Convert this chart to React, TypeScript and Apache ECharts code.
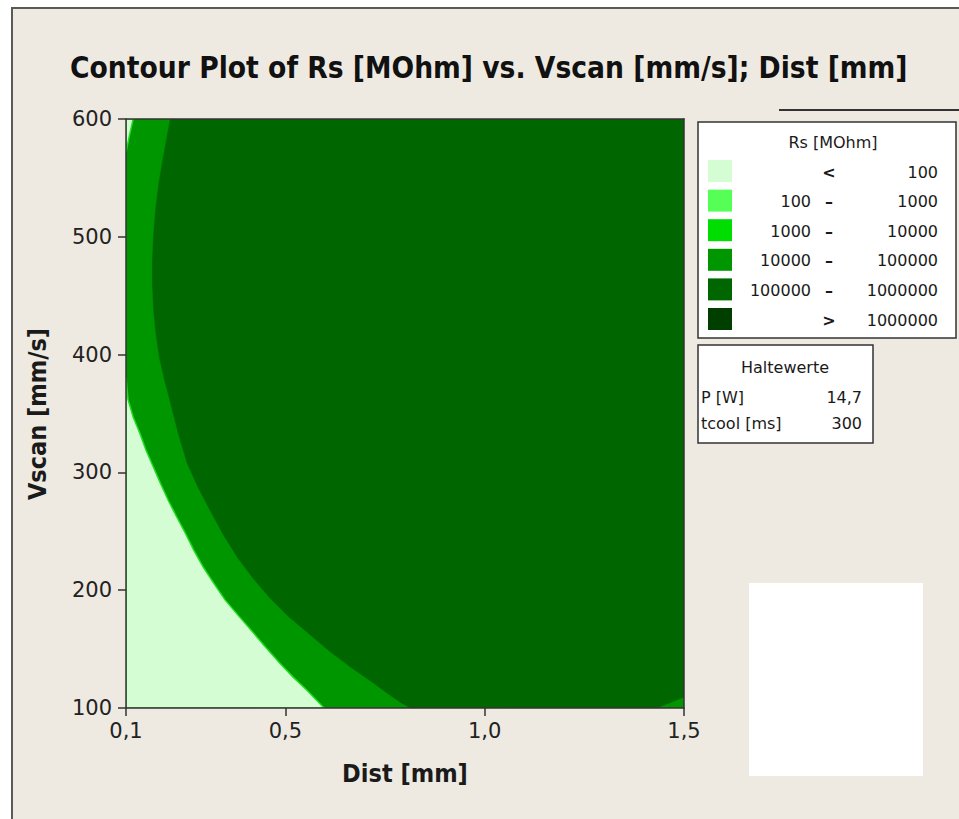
import React, { useEffect, useRef } from "react";
import * as echarts from "echarts";

// ---- Data ----
const xTicks = [0.1, 0.5, 1.0, 1.5];
const yMin = 100;
const yMax = 600;
const xMin = 0.1;
const xMax = 1.5;

// full plot region (100000 - 1000000)
const darkRegion: number[][] = [
  [0.1, 100], [1.5, 100], [1.5, 600], [0.1, 600],
];
// boundary between 10000-100000 and 100000-1000000 (top -> bottom)
const mediumDarkBoundary: number[][] = [
  [0.21, 600], [0.2, 582], [0.191, 565], [0.181, 545], [0.173, 523],
  [0.168, 502], [0.165, 480], [0.165, 460], [0.168, 438], [0.174, 417],
  [0.183, 397], [0.195, 379], [0.209, 361], [0.23, 333], [0.252, 308],
  [0.28, 287], [0.311, 267], [0.343, 247], [0.378, 228], [0.418, 210],
  [0.461, 193], [0.505, 178], [0.554, 164], [0.61, 148], [0.669, 133],
  [0.72, 121], [0.76, 111], [0.79, 104], [0.812, 100],
];
// boundary of the < 100 region (left edge -> bottom)
const lightBoundary: number[][] = [
  [0.1, 380], [0.105, 362], [0.118, 347], [0.135, 333], [0.15, 319],
  [0.168, 305], [0.186, 291], [0.205, 277], [0.226, 263], [0.248, 249],
  [0.27, 234], [0.293, 220], [0.32, 206], [0.348, 192], [0.383, 178],
  [0.419, 164], [0.452, 151], [0.486, 138], [0.52, 126], [0.554, 115],
  [0.577, 107], [0.597, 100],
];
// small < 100 sliver at the top-left corner
const topLeftSliver: number[][] = [[0.1, 600], [0.118, 600], [0.108, 585], [0.1, 572]];
// small 10000-100000 corner at the bottom-right
const bottomRightCorner: number[][] = [[1.435, 100], [1.5, 109], [1.5, 100]];

const legendColors = ["#D4FDD4", "#55FF55", "#00DD00", "#009600", "#006600", "#003F00"];
const legendLow = ["", "100", "1000", "10000", "100000", ""];
const legendSym = ["<", "\u2013", "\u2013", "\u2013", "\u2013", ">"];
const legendHigh = ["100", "1000", "10000", "100000", "1000000", "1000000"];

const holdNames = ["P [W]", "tcool [ms]"];
const holdValues = ["14,7", "300"];

const TITLE = "Contour Plot of Rs [MOhm] vs. Vscan [mm/s]; Dist [mm]";
const FONT = '"DejaVu Sans Condensed", "DejaVu Sans", sans-serif';
const FONT_W = '"DejaVu Sans", sans-serif';
const BG = "#EEEAE1";

const polygons = [
  { pts: darkRegion, fill: legendColors[4], stroke: null as string | null },
  {
    pts: [[0.1, 600], ...mediumDarkBoundary, [0.1, 100]],
    fill: legendColors[3],
    stroke: null,
  },
  { pts: bottomRightCorner, fill: legendColors[3], stroke: null },
  { pts: [...lightBoundary, [0.1, 100]], fill: legendColors[0], stroke: "#22DD22" },
  { pts: topLeftSliver, fill: legendColors[0], stroke: "#22DD22" },
];

function pickTitleFont(): string {
  const c = document.createElement("canvas").getContext("2d");
  if (c) {
    c.font = `bold 100px ${FONT}`;
    const w = c.measureText(TITLE).width;
    const size = Math.min(38, Math.max(24, (838 / w) * 100));
    return `bold ${size.toFixed(1)}px ${FONT}`;
  }
  return `bold 30px ${FONT}`;
}

export default function App() {
  const ref = useRef<HTMLDivElement>(null);
  useEffect(() => {
    if (!ref.current) return;
    const chart = echarts.init(ref.current, null, { renderer: "svg" });
    const LF = `16px ${FONT_W}`;
    const TC = "#1a1a1a";

    const legendGraphics: any[] = [
      { type: "rect", shape: { x: 698, y: 122, width: 258, height: 216 }, style: { fill: "#fff", stroke: "#333", lineWidth: 1.5 } },
      { type: "text", x: 833, y: 142, style: { text: "Rs [MOhm]", font: LF, fill: TC, align: "center", verticalAlign: "middle" } },
    ];
    legendColors.forEach((c, i) => {
      const y = 160 + i * 29.6;
      legendGraphics.push({ type: "rect", shape: { x: 708, y, width: 24, height: 22 }, style: { fill: c } });
      const cy = y + 12;
      if (legendLow[i]) legendGraphics.push({ type: "text", x: 811, y: cy, style: { text: legendLow[i], font: LF, fill: TC, align: "right", verticalAlign: "middle" } });
      legendGraphics.push({ type: "text", x: 829, y: cy, style: { text: legendSym[i], font: `bold 16px ${FONT_W}`, fill: TC, align: "center", verticalAlign: "middle" } });
      legendGraphics.push({ type: "text", x: 938, y: cy, style: { text: legendHigh[i], font: LF, fill: TC, align: "right", verticalAlign: "middle" } });
    });
    legendGraphics.push(
      { type: "rect", shape: { x: 698, y: 345, width: 175, height: 98 }, style: { fill: "#fff", stroke: "#333", lineWidth: 1.5 } },
      { type: "text", x: 785, y: 367, style: { text: "Haltewerte", font: LF, fill: TC, align: "center", verticalAlign: "middle" } }
    );
    holdNames.forEach((n, i) => {
      const y = 397 + i * 26;
      legendGraphics.push({ type: "text", x: 701, y, style: { text: n, font: LF, fill: TC, align: "left", verticalAlign: "middle" } });
      legendGraphics.push({ type: "text", x: 862, y, style: { text: holdValues[i], font: LF, fill: TC, align: "right", verticalAlign: "middle" } });
    });

    const fmt = (v: number) => v.toFixed(1).replace(".", ",");

    chart.setOption({
      animation: false,
      backgroundColor: "#ffffff",
      grid: { left: 126, top: 119, width: 558, height: 589, show: false },
      xAxis: [
        {
          type: "value", min: xMin, max: xMax, position: "bottom", z: 10,
          axisLine: { show: true, onZero: false, lineStyle: { color: "#333", width: 1.5 } },
          axisTick: { show: true, customValues: xTicks, length: 8, lineStyle: { color: "#333", width: 1.5 } },
          axisLabel: { customValues: xTicks, formatter: fmt, fontSize: 21, color: "#222", margin: 12, fontFamily: FONT_W },
          splitLine: { show: false },
        },
        {
          type: "value", min: xMin, max: xMax, position: "top", z: 10,
          axisLine: { show: true, onZero: false, lineStyle: { color: "#333", width: 1.5 } },
          axisTick: { show: false }, axisLabel: { show: false }, splitLine: { show: false },
        },
      ],
      yAxis: [
        {
          type: "value", min: yMin, max: yMax, interval: 100, position: "left", z: 10,
          axisLine: { show: true, onZero: false, lineStyle: { color: "#333", width: 1.5 } },
          axisTick: { show: true, length: 8, lineStyle: { color: "#333", width: 1.5 } },
          axisLabel: { fontSize: 21, color: "#222", margin: 14, fontFamily: FONT_W },
          splitLine: { show: false },
        },
        {
          type: "value", min: yMin, max: yMax, position: "right", z: 10,
          axisLine: { show: true, onZero: false, lineStyle: { color: "#333", width: 1.5 } },
          axisTick: { show: false }, axisLabel: { show: false }, splitLine: { show: false },
        },
      ],
      series: [
        {
          type: "custom",
          xAxisIndex: 0,
          yAxisIndex: 0,
          z: 2,
          clip: true,
          data: polygons.map((p) => p.pts[0]),
          renderItem: (params: any, api: any) => {
            const poly = polygons[params.dataIndex];
            const points = poly.pts.map((pt) => api.coord(pt));
            return {
              type: "polygon",
              shape: { points },
              style: poly.stroke
                ? { fill: poly.fill, stroke: poly.stroke, lineWidth: 1.5 }
                : { fill: poly.fill, stroke: poly.fill, lineWidth: 0.5 },
            };
          },
        },
      ],
      graphic: [
        { type: "rect", z: -10, shape: { x: 12, y: 8, width: 960, height: 830 }, style: { fill: BG, stroke: "#5a5a5a", lineWidth: 2 } },
        { type: "text", x: 70, y: 68, style: { text: TITLE, font: pickTitleFont(), fill: "#111", align: "left", verticalAlign: "middle" } },
        { type: "line", shape: { x1: 779, y1: 110, x2: 959, y2: 110 }, style: { stroke: "#333", lineWidth: 2 } },
        { type: "text", x: 405, y: 773, style: { text: "Dist [mm]", font: `bold 25px ${FONT}`, fill: "#1a1a1a", align: "center", verticalAlign: "middle" } },
        { type: "text", x: 37, y: 414, rotation: Math.PI / 2, style: { text: "Vscan [mm/s]", font: `bold 25px ${FONT}`, fill: "#1a1a1a", align: "center", verticalAlign: "middle" } },
        { type: "rect", shape: { x: 749, y: 583, width: 174, height: 193 }, style: { fill: "#ffffff" } },
        ...legendGraphics,
      ],
    });
    return () => chart.dispose();
  }, []);
  return <div ref={ref} style={{ position: "absolute", left: 0, top: 0, width: 959, height: 819 }} />;
}
